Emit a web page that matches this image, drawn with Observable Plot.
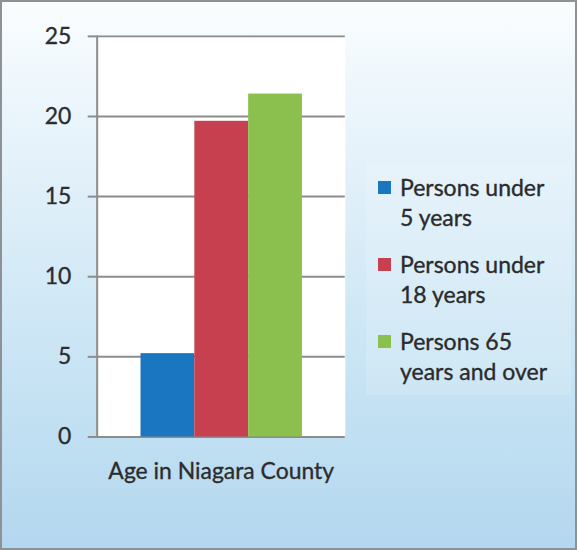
<!DOCTYPE html>
<html><head><meta charset="utf-8">
<script src="https://cdn.jsdelivr.net/npm/d3@7"></script>
<script src="https://cdn.jsdelivr.net/npm/@observablehq/plot@0.6"></script>
<style>
body{margin:0;background:#fff;}
#chart{position:relative;width:577px;height:550px;box-sizing:border-box;border:2px solid #8d9297;
 background:linear-gradient(to bottom,#fafdfe 0%,#e9f4fb 22%,#d4eaf7 50%,#c3e1f3 75%,#b3d7ef 100%);
 font-family:Lato,"Open Sans",sans-serif;overflow:hidden;}
#plot{position:absolute;left:-2px;top:-2px;}
#plot svg text{stroke:#333;stroke-width:0.35px;}
#legend{position:absolute;left:364px;top:161px;width:205px;height:232px;background:rgba(255,255,255,0.15);}
.entry{position:absolute;left:34px;font-size:23px;line-height:30px;color:#2b2b2b;-webkit-text-stroke:0.35px #2b2b2b;white-space:nowrap;}
.sw{position:absolute;left:-22px;top:9px;width:13px;height:13px;}
</style></head>
<body><div id="chart"><div id="plot"></div><div id="legend"></div></div>
<script>
const category = "Age in Niagara County";
const series = ["Persons under 5 years", "Persons under 18 years", "Persons 65 years and over"];
const legendLines = [["Persons under", "5 years"], ["Persons under", "18 years"], ["Persons 65", "years and over"]];
const values = [5.2, 19.7, 21.4];
const colors = ["#1b76c2", "#c6404f", "#8cc04e"];
const yTicks = [0, 5, 10, 15, 20, 25];

const data = series.map((s, i) => ({series: s, value: values[i]}));

const plot = Plot.plot({
  width: 577, height: 550,
  marginLeft: 97, marginRight: 231, marginTop: 36, marginBottom: 112,
  style: {background: "transparent", fontFamily: "Lato, 'Open Sans', sans-serif", fontSize: "23px", color: "#2b2b2b", overflow: "visible"},
  x: {domain: series, paddingInner: 0, paddingOuter: 0.764, axis: null},
  y: {domain: [0, 25], ticks: yTicks, label: null},
  color: {domain: series, range: colors},
  marks: [
    Plot.frame({fill: "white", stroke: null}),
    Plot.ruleY(yTicks, {stroke: "#8c8c8c", strokeWidth: 2, strokeOpacity: 1}),
    Plot.frame({anchor: "left", stroke: "#8c8c8c", strokeWidth: 2, strokeOpacity: 1}),
    Plot.barY(data, {x: "series", y: "value", fill: "series", insetLeft: 0, insetRight: 0}),
    Plot.axisY({ticks: yTicks, tickSize: 9, tickPadding: 17, tickFormat: d => d, fontSize: 23, stroke: "#8c8c8c", strokeWidth: 2, label: null}),
    Plot.text([category], {frameAnchor: "bottom", lineAnchor: "middle", dy: 35, fontSize: 23, fill: "#2b2b2b"})
  ]
});
document.getElementById("plot").appendChild(plot);

const legend = document.getElementById("legend");
series.forEach((s, i) => {
  const e = document.createElement("div");
  e.className = "entry";
  e.style.top = (9 + i * 77) + "px";
  e.innerHTML = legendLines[i].join("<br>");
  const sw = document.createElement("div");
  sw.className = "sw";
  sw.style.background = colors[i];
  e.appendChild(sw);
  legend.appendChild(e);
});
</script></body></html>
